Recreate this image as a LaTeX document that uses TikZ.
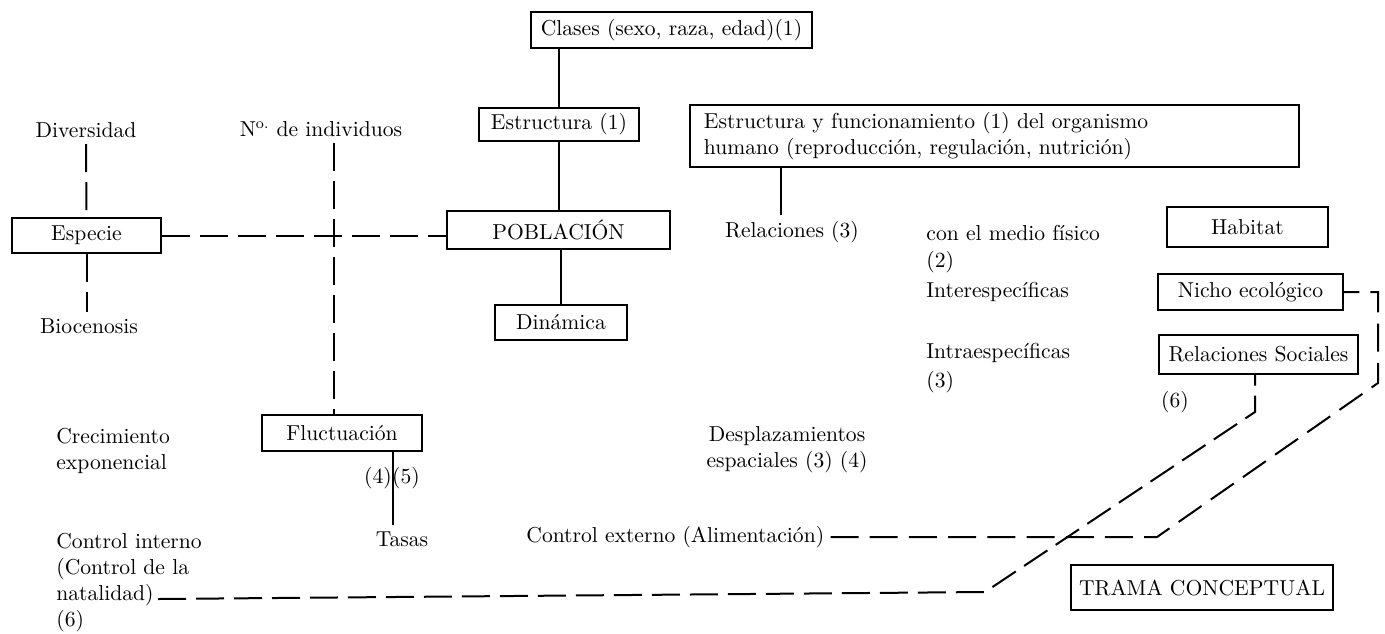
\documentclass[tikz,border=0pt]{standalone}
\usepackage{tikz}
\begin{document}
\begin{tikzpicture}[x=0.5pt,y=-0.5pt,
  every node/.style={font=\fontsize{10.8}{13}\selectfont},
  box/.style={draw,line width=0.9pt,inner sep=0pt,align=center},
  lbl/.style={inner sep=3pt,align=left},
  ln/.style={line width=1pt},
  dl/.style={line width=1pt,dash pattern=on 14pt off 5pt}]
\useasboundingbox (0,0) rectangle (1385,633);

% boxes
\node[box,minimum width=140.5pt,minimum height=18pt] (clases) at (671.5,30) {Clases (sexo, raza, edad)(1)};
\node[box,minimum width=80pt,minimum height=16.5pt] (estr) at (559,124.5) {Estructura (1)};
\node[box,minimum width=111.5pt,minimum height=19pt] (pob) at (558.5,230) {POBLACIÓN};
\node[box,minimum width=66pt,minimum height=17.5pt] (din) at (561,322.5) {Dinámica};
\node[box,anchor=west,text width=290.5pt,inner xsep=7pt,minimum height=31pt,align=left] (organ) at (689,136)
  {Estructura y funcionamiento (1) del organismo\\humano (reproducción, regulación, nutrición)};
\node[box,minimum width=74.5pt,minimum height=17.5pt] (esp) at (86.5,235.5) {Especie};
\node[box,minimum width=80pt,minimum height=18pt] (fluct) at (342,433) {Fluctuación};
\node[box,minimum width=80.5pt,minimum height=20pt] (hab) at (1247.5,227) {Habitat};
\node[box,minimum width=92.5pt,minimum height=18pt] (nicho) at (1250.5,292) {Nicho ecológico};
\node[box,minimum width=99.5pt,minimum height=19.5pt] (rsoc) at (1258.5,354.5) {Relaciones Sociales};
\node[box,minimum width=131pt,minimum height=22.5pt] (trama) at (1202,587.5) {TRAMA CONCEPTUAL};

% labels
\node[lbl] (div) at (86,130) {Diversidad};
\node[lbl] (bio) at (89,326) {Biocenosis};
\node[lbl] (nind) at (321,129) {N\textsuperscript{o.} de individuos};
\node[lbl] (rel) at (792,232) {Relaciones (3)};
\node[lbl,anchor=west] (medio) at (920,233) {con el medio físico};
\node[lbl,anchor=west] (dos) at (920,262) {(2)};
\node[lbl,anchor=west] (inter) at (920,292) {Interespecíficas};
\node[lbl,anchor=west] (intra) at (920,353) {Intraespecíficas};
\node[lbl,anchor=west] (tres) at (920,382) {(3)};
\node[lbl] (seis) at (1175,402) {(6)};
\node[lbl,anchor=west] (crec) at (50,451) {Crecimiento\\exponencial};
\node[lbl,align=center] (despl) at (787,450) {Desplazamientos\\espaciales (3) (4)};
\node[lbl] (cuatro) at (378,478) {(4)};
\node[lbl] (cinco) at (406,478) {(5)};
\node[lbl] (tasas) at (402,539) {Tasas};
\node[lbl,anchor=west] (cint) at (50,582.5) {Control interno\\(Control de la\\natalidad)\\(6)};
\node[lbl,anchor=west] (cext) at (520,537) {Control externo (Alimentación)};

% helper coordinates
\coordinate (nx) at (334,0);
\coordinate (tx) at (393,0);
\coordinate (rx) at (781,0);
\coordinate (sx) at (1255,0);
\coordinate (natend) at (158,599);
\coordinate (a1) at (1255,412);
\coordinate (a2) at (985,592);
\coordinate (b1) at (1378,292);
\coordinate (b2) at (1378,383);
\coordinate (b3) at (1157,537);

% solid connectors
\draw[ln] (estr.north) -- (estr.north |- clases.south);
\draw[ln] (estr.south) -- (estr.south |- pob.north);
\draw[ln] (din.north) -- (din.north |- pob.south);
\draw[ln] (rx |- organ.south) -- (rx |- rel.north);
\draw[ln] (tx |- fluct.south) -- (tx |- tasas.north);

% dashed connectors
\draw[dl] (div.south) -- (esp.north);
\draw[dl] (esp.south) -- (esp.south |- bio.north);
\draw[dl] (esp.east) -- (esp.east -| pob.west);
\draw[dl] (nx |- nind.south) -- (nx |- fluct.north);
\draw[dl] (natend) -- (a2) -- (a1) -- (sx |- rsoc.south);
\draw[dl,dash pattern=on 14pt off 5.6pt] (cext.east) -- (b3) -- (b2) -- (b1) -- (nicho.east);
\end{tikzpicture}
\end{document}
